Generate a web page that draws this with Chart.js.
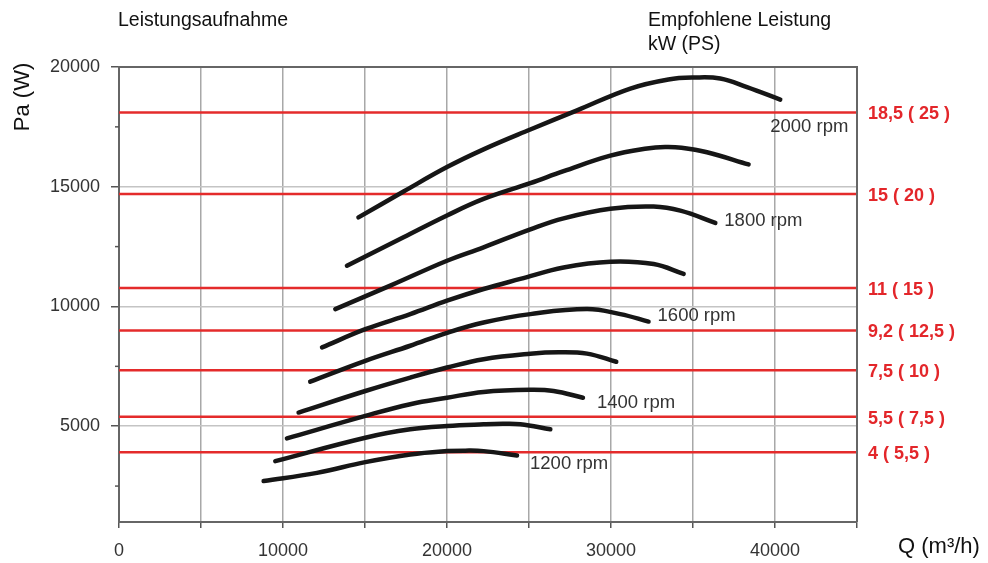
<!doctype html>
<html lang="de">
<head>
<meta charset="utf-8">
<title>Leistungsaufnahme</title>
<script src="https://cdn.jsdelivr.net/npm/chart.js@4.4.1/dist/chart.umd.min.js"></script>
<style>
  html, body { margin: 0; padding: 0; background: #fff; }
  #wrap { width: 988px; height: 563px; }
</style>
</head>
<body>
<div id="wrap"><canvas id="chart" width="988" height="563"></canvas></div>
<script>
// fan curves, Q in m3/h, P in Pa (W)
const curve1Q = [14600, 17350, 20000, 22230, 25080, 27930, 31180, 33500, 35040, 36660, 38290, 40320];
const curve1P = [13720, 14800, 15820, 16560, 17390, 18190, 19100, 19480, 19560, 19520, 19160, 18640];
const curve2Q = [13900, 17350, 20000, 22230, 25080, 27110, 29960, 32200, 33300, 34300, 35850, 38390];
const curve2P = [11700, 12890, 13800, 14490, 15150, 15650, 16300, 16600, 16660, 16630, 16440, 15930];
const curve3Q = [13190, 16540, 20000, 22230, 25080, 27110, 29960, 32600, 34230, 36360];
const curve3P = [9890, 10870, 11910, 12470, 13220, 13680, 14080, 14170, 14000, 13490];
const curve4Q = [12380, 15020, 17760, 20000, 22230, 24470, 27110, 29960, 32600, 34430];
const curve4P = [8290, 9050, 9680, 10240, 10730, 11150, 11630, 11870, 11770, 11360];
const curve5Q = [11660, 15020, 17760, 20000, 22230, 25080, 28540, 30570, 32290];
const curve5P = [6860, 7730, 8360, 8900, 9330, 9680, 9890, 9680, 9370];
const curve6Q = [10950, 15020, 17760, 20000, 22230, 25080, 26800, 28540, 30320];
const curve6P = [5570, 6470, 7030, 7450, 7800, 8030, 8090, 8030, 7690];
const curve7Q = [10240, 15020, 17760, 20000, 22230, 25080, 26500, 28290];
const curve7P = [4490, 5430, 5920, 6190, 6430, 6520, 6470, 6190];
const curve8Q = [9530, 15020, 17760, 20000, 22230, 23400, 24470, 26300];
const curve8P = [3540, 4520, 4870, 5010, 5080, 5100, 5080, 4870];
const curve9Q = [8820, 12070, 15020, 17760, 20000, 21100, 22230, 24270];
const curve9P = [2710, 3050, 3500, 3820, 3960, 3980, 3960, 3780];

const rpmLabels = ['2000 rpm', '', '1800 rpm', '', '1600 rpm', '', '1400 rpm', '', '1200 rpm'];

// recommended motor power, kW (PS)
const powerLevels = [18100, 14700, 10770, 9000, 7340, 5390, 3910];
const powerLabels = ['18,5 ( 25 )', '15 ( 20 )', '11 ( 15 )', '9,2 ( 12,5 )', '7,5 ( 10 )', '5,5 ( 7,5 )', '4 ( 5,5 )'];

const FONT = '"Liberation Sans", Arial, sans-serif';

const curves = [
  [curve1Q, curve1P], [curve2Q, curve2P], [curve3Q, curve3P],
  [curve4Q, curve4P], [curve5Q, curve5P], [curve6Q, curve6P],
  [curve7Q, curve7P], [curve8Q, curve8P], [curve9Q, curve9P]
];

const datasets = [];
curves.forEach(function (c, i) {
  datasets.push({
    label: rpmLabels[i] || ('curve ' + (i + 1)),
    data: c[0].map(function (q, k) { return { x: q, y: c[1][k] }; }),
    borderColor: '#161616',
    borderWidth: 4.5,
    borderCapStyle: 'round',
    borderJoinStyle: 'round',
    tension: 0.4,
    pointRadius: 0,
    order: 0
  });
});
powerLevels.forEach(function (v, i) {
  datasets.push({
    label: powerLabels[i],
    data: [{ x: 0, y: v }, { x: 45000, y: v }],
    borderColor: '#e42b2b',
    borderWidth: 2.5,
    pointRadius: 0,
    order: 1
  });
});

// offsets of the rpm texts from the curve end, px
const rpmOffsets = { 0: [-10, 27], 2: [9, -2], 4: [9, -6], 6: [14, 5], 8: [13, 8] };

const decorations = {
  id: 'decorations',
  afterDraw: function (chart) {
    const ctx = chart.ctx;
    const area = chart.chartArea;
    const y = chart.scales.y;
    ctx.save();

    // frame: top and right
    ctx.strokeStyle = '#666';
    ctx.lineWidth = 2;
    ctx.beginPath();
    ctx.moveTo(area.left, area.top);
    ctx.lineTo(area.right, area.top);
    ctx.lineTo(area.right, area.bottom);
    ctx.stroke();

    // minor ticks on y
    ctx.lineWidth = 1.5;
    ctx.strokeStyle = '#555';
    [2500, 7500, 12500, 17500].forEach(function (v) {
      const py = y.getPixelForValue(v);
      ctx.beginPath();
      ctx.moveTo(area.left - 4, py);
      ctx.lineTo(area.left, py);
      ctx.stroke();
    });

    // rpm labels
    ctx.font = '18.5px ' + FONT;
    ctx.fillStyle = '#333';
    ctx.textAlign = 'left';
    ctx.textBaseline = 'middle';
    rpmLabels.forEach(function (txt, i) {
      if (!txt) return;
      const pts = chart.getDatasetMeta(i).data;
      const last = pts[pts.length - 1];
      const off = rpmOffsets[i];
      ctx.fillText(txt, last.x + off[0], last.y + off[1]);
    });

    // power labels at the right
    ctx.font = 'bold 18px ' + FONT;
    ctx.fillStyle = '#e3262a';
    powerLevels.forEach(function (v, i) {
      ctx.fillText(powerLabels[i], area.right + 11, y.getPixelForValue(v) + 2);
    });

    // titles
    ctx.font = '19.5px ' + FONT;
    ctx.fillStyle = '#111';
    ctx.fillText('Leistungsaufnahme', 118, 21);
    ctx.fillText('Empfohlene Leistung', 648, 21);
    ctx.fillText('kW (PS)', 648, 45);

    // axis titles
    ctx.font = '22px ' + FONT;
    ctx.fillText('Q (m³/h)', 898, 547);
    ctx.translate(23, 97);
    ctx.rotate(-Math.PI / 2);
    ctx.textAlign = 'center';
    ctx.fillText('Pa (W)', 0, 0);
    ctx.restore();
  }
};

new Chart(document.getElementById('chart'), {
  type: 'line',
  data: { datasets: datasets },
  plugins: [decorations],
  options: {
    responsive: false,
    animation: false,
    layout: { padding: { left: 0, top: 67, right: 131, bottom: 0 } },
    plugins: { legend: { display: false }, tooltip: { enabled: false } },
    scales: {
      x: {
        type: 'linear',
        min: 0,
        max: 45000,
        afterFit: function (s) { s.height = 41; },
        ticks: {
          stepSize: 5000,
          autoSkip: false,
          maxRotation: 0,
          padding: 12,
          color: '#333',
          font: { family: FONT, size: 18 },
          callback: function (v) { return v % 10000 === 0 ? String(v) : ''; }
        },
        grid: {
          color: function (c) { return c.tick && c.tick.value === 45000 ? '#666' : '#a8a8a8'; },
          lineWidth: 1.5,
          tickLength: 6,
          tickColor: '#555'
        },
        border: { color: '#666', width: 2 }
      },
      y: {
        type: 'linear',
        min: 1000,
        max: 20000,
        afterFit: function (s) { s.width = 119; },
        afterBuildTicks: function (s) {
          const t = [];
          for (let v = 2500; v <= 20000; v += 2500) t.push({ value: v });
          s.ticks = t;
        },
        ticks: {
          padding: 11,
          color: '#333',
          font: { family: FONT, size: 18 },
          callback: function (v) { return v % 5000 === 0 ? String(v) : ''; }
        },
        grid: {
          color: function (c) {
            const v = c.tick ? c.tick.value : 0;
            if (v === 20000) return '#666';
            return v % 5000 === 0 ? '#c4c4c4' : 'rgba(0,0,0,0)';
          },
          lineWidth: 1.5,
          tickLength: 8,
          tickColor: function (c) {
            const v = c.tick ? c.tick.value : 0;
            return v % 5000 === 0 ? '#555' : 'rgba(0,0,0,0)';
          }
        },
        border: { color: '#666', width: 2 }
      }
    }
  }
});
</script>
</body>
</html>
